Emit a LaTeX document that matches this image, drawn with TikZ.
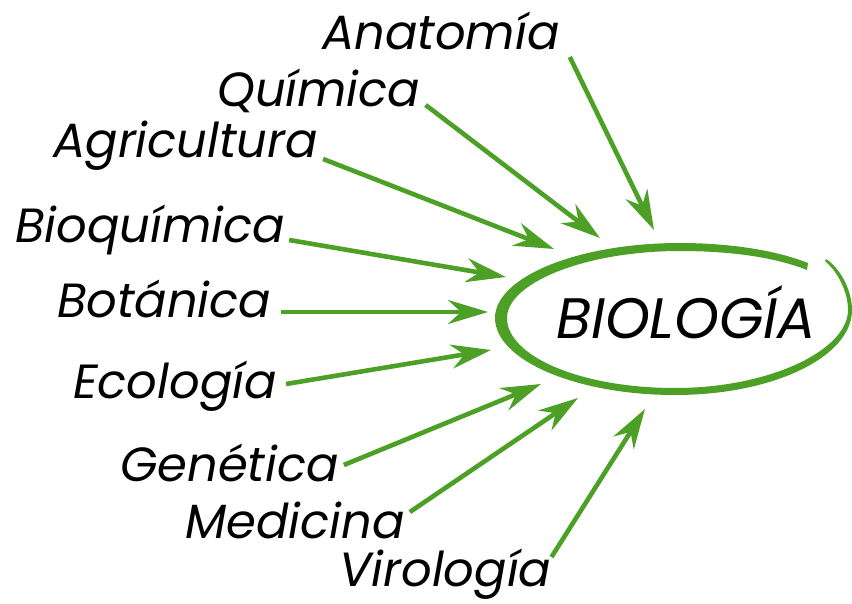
\documentclass[tikz,border=0pt]{standalone}
\usepackage{fontspec}
\setmainfont{Poppins}
\usetikzlibrary{arrows.meta}
\definecolor{gr}{RGB}{77,160,38}
\tikzset{
  lab/.style={font=\fontsize{48}{52}\selectfont\itshape, text=black, inner sep=0pt, anchor=base west},
  arr/.style={draw=gr, line width=4.6pt, -{Stealth[length=40pt,width=24pt,inset=13pt]}}
}
\begin{document}
\begin{tikzpicture}[x=1pt,y=-1pt]
\useasboundingbox[fill=white] (0,0) rectangle (852,604);
% central shape
\fill[gr] (808,263) .. controls (770,248) and (720,243) .. (680,243)
 .. controls (578,243) and (495,277) .. (495,318)
 .. controls (495,360) and (576,395) .. (675,395)
 .. controls (773,395) and (852,357) .. (852,310)
 .. controls (852,290) and (840,268) .. (826,259)
 -- (825,261)
 .. controls (838,272) and (848,292) .. (848,310)
 .. controls (848,350) and (770,388) .. (675,388)
 .. controls (580,388) and (507,356) .. (507,318)
 .. controls (507,283) and (585,251) .. (680,251)
 .. controls (725,251) and (772,256) .. (807,270) -- cycle;
\node[font=\fontsize{57}{60}\selectfont\itshape, inner sep=0pt, anchor=base west] (bio) at (556,338) {BIOLOGÍA};
% labels
\node[lab] (ana) at (322,50) {Anatomía};
\node[lab] (qui) at (217,107) {Química};
\node[lab] (agr) at (53,158) {Agricultura};
\node[lab] (bqu) at (15,243) {Bioquímica};
\node[lab] (bot) at (57,317) {Botánica};
\node[lab] (eco) at (73,398) {Ecología};
\node[lab] (gen) at (120,481) {Genética};
\node[lab] (med) at (185,538) {Medicina};
\node[lab] (vir) at (339,586) {Virología};
% arrow tips
\coordinate (tana) at (654,230);
\coordinate (tqui) at (600,238);
\coordinate (tagr) at (554,249);
\coordinate (tbqu) at (506,277);
\coordinate (tbot) at (488,312);
\coordinate (teco) at (491,350);
\coordinate (tgen) at (541,384);
\coordinate (tmed) at (578,398);
\coordinate (tvir) at (645,409);
% arrows
\draw[arr] ([shift={(10,7)}]ana.base east) -- (tana);
\draw[arr] ([shift={(5,-2)}]qui.base east) -- (tqui);
\draw[arr] ([shift={(5,1)}]agr.base east) -- (tagr);
\draw[arr] ([shift={(4,-3)}]bqu.base east) -- (tbqu);
\draw[arr] ([shift={(9,-5)}]bot.base east) -- (tbot);
\draw[arr] ([shift={(9,-14)}]eco.base east) -- (teco);
\draw[arr] ([shift={(5,-16)}]gen.base east) -- (tgen);
\draw[arr] ([shift={(5,-26)}]med.base east) -- (tmed);
\draw[arr] ([shift={(0,-29)}]vir.base east) -- (tvir);
\end{tikzpicture}
\end{document}
